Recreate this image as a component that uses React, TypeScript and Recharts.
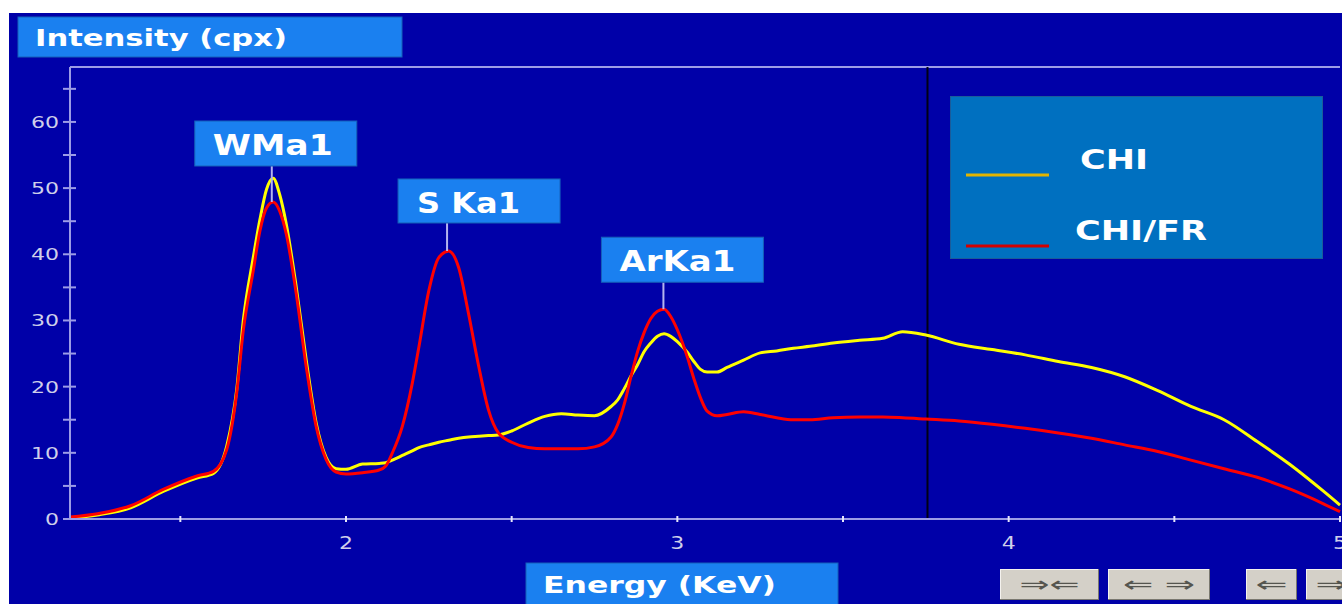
import React from 'react';
import { LineChart, Line, XAxis, YAxis, ReferenceLine, ReferenceDot, Legend } from 'recharts';

// Spectrum samples (energy in keV, intensity in counts)
const energyKeV = [
  1.167, 1.25, 1.35, 1.45, 1.55, 1.6, 1.64, 1.67, 1.69, 1.72,
  1.74, 1.76, 1.78, 1.8, 1.82, 1.85, 1.88, 1.91, 1.94, 1.97,
  2.0, 2.05, 2.1, 2.12, 2.14, 2.17, 2.2, 2.22, 2.25, 2.28,
  2.31, 2.34, 2.37, 2.4, 2.43, 2.46, 2.5, 2.55, 2.6, 2.65,
  2.7, 2.75, 2.8, 2.82, 2.84, 2.86, 2.88, 2.9, 2.92, 2.94,
  2.96, 2.98, 3.0, 3.03, 3.05, 3.07, 3.09, 3.12, 3.15, 3.2,
  3.25, 3.3, 3.35, 3.4, 3.47, 3.55, 3.62, 3.68, 3.75, 3.85,
  3.95, 4.05, 4.15, 4.25, 4.35, 4.45, 4.55, 4.65, 4.75, 4.85,
  4.95, 5.0,
];

const chiCounts = [
  0.1, 0.6, 1.7, 4.2, 6.2, 6.9, 11.0, 19.5, 30.0, 39.5,
  45.2, 49.8, 51.5, 49.0, 44.5, 35.0, 24.0, 14.5, 9.3, 7.6,
  7.5, 8.3, 8.4, 8.5, 8.9, 9.6, 10.3, 10.8, 11.2, 11.6,
  11.9, 12.2, 12.4, 12.5, 12.6, 12.7, 13.3, 14.5, 15.5, 15.9,
  15.7, 15.6, 17.0, 18.0, 19.7, 21.6, 23.3, 25.3, 26.6, 27.6,
  28.0, 27.6, 26.8, 25.2, 23.8, 22.6, 22.2, 22.2, 22.9, 24.0,
  25.1, 25.4, 25.8, 26.1, 26.6, 27.0, 27.3, 28.3, 27.8, 26.4,
  25.6, 24.8, 23.8, 22.9, 21.5, 19.4, 17.0, 15.0, 11.7, 8.2,
  4.2, 2.1,
];

const chiFrCounts = [
  0.3, 0.8, 2.0, 4.5, 6.5, 7.2, 10.5, 19.0, 28.5, 37.5,
  43.5, 47.0, 47.9, 46.5, 43.0, 34.0, 23.0, 14.0, 9.0, 7.1,
  6.8, 7.0, 7.4, 8.0, 10.0, 14.0, 20.5, 26.0, 34.5, 39.5,
  40.5, 38.0, 31.0, 23.2, 16.5, 13.0, 11.6, 10.8, 10.6, 10.6,
  10.6, 10.9, 12.4, 14.3, 17.4, 21.5, 25.3, 28.2, 30.3, 31.4,
  31.7, 30.6, 28.6, 24.5, 21.2, 18.3, 16.3, 15.6, 15.8, 16.2,
  15.8, 15.3, 15.0, 15.0, 15.3, 15.4, 15.4, 15.3, 15.1, 14.8,
  14.3, 13.7, 13.0, 12.2, 11.2, 10.2, 8.9, 7.6, 6.3, 4.5,
  2.3, 1.1,
];

const seriesNames = ['CHI', 'CHI/FR'];

const xTickValues = [1.5, 2, 2.5, 3, 3.5, 4, 4.5, 5];
const xTickLabels = ['', '2', '', '3', '', '4', '', '5'];
const yTickValues = [0, 5, 10, 15, 20, 25, 30, 35, 40, 45, 50, 55, 60, 65];
const yTickLabels = ['0', '', '10', '', '20', '', '30', '', '40', '', '50', '', '60', ''];

// Identified emission lines
const peakNames = ['WMa1', 'S Ka1', 'ArKa1'];
const peakEnergies = [1.776, 2.305, 2.958];
const peakCounts = [47.9, 40.5, 31.7];

const cursorEnergy = 3.755;
const energyDomain: [number, number] = [1.167, 5];
const countDomain: [number, number] = [0, 68.3];

const data = energyKeV.map((e, i) => ({ energy: e, chi: chiCounts[i], chiFr: chiFrCounts[i] }));

// Visual styling
const NAVY = '#0000A8';
const AXIS = '#9C9CE6';
const TICK_TEXT = '#CFCFEA';
const TAG_BLUE = '#1A80F0';
const FONT = "'DejaVu Sans', 'Liberation Sans', sans-serif";

const tagLayout = [
  { dx: -77, stem: 36, w: 162, h: 45, textDx: 18, textW: 120 },
  { dx: -49, stem: 28, w: 162, h: 44, textDx: 19, textW: 103 },
  { dx: -62, stem: 27, w: 162, h: 45, textDx: 18, textW: 116 },
];

const PeakTag = ({ cx, cy, idx }: { cx?: number; cy?: number; idx: number }) => {
  if (cx == null || cy == null) return null;
  const L = tagLayout[idx];
  const top = cy - L.stem - L.h;
  const left = cx + L.dx;
  return (
    <g>
      <line x1={cx} x2={cx} y1={cy} y2={cy - L.stem} stroke="#B4B4EE" strokeWidth={2} />
      <rect x={left} y={top} width={L.w} height={L.h} fill={TAG_BLUE} stroke="#1560B8" strokeWidth={1} />
      <text
        x={left + L.textDx}
        y={top + 34}
        fill="#FFFFFF"
        fontFamily={FONT}
        fontWeight="bold"
        fontSize={28}
        textLength={L.textW}
        lengthAdjust="spacingAndGlyphs"
      >
        {peakNames[idx]}
      </text>
    </g>
  );
};

const XTick = (props: any) => {
  const { x, y, payload } = props;
  const i = xTickValues.indexOf(payload.value);
  const label = i >= 0 ? xTickLabels[i] : '';
  return (
    <g>
      <line x1={x} x2={x} y1={y - 3} y2={y + 3} stroke="#E6E6FA" strokeWidth={2} />
      {label && (
        <text x={x} y={y + 30} textAnchor="middle" fill={TICK_TEXT} fontFamily={FONT} fontSize={17}
          textLength={14} lengthAdjust="spacingAndGlyphs">
          {label}
        </text>
      )}
    </g>
  );
};

const YTick = (props: any) => {
  const { x, y, payload } = props;
  const i = yTickValues.indexOf(payload.value);
  const label = i >= 0 ? yTickLabels[i] : '';
  return (
    <g>
      <line x1={x - 7} x2={x + 6} y1={y} y2={y} stroke={AXIS} strokeWidth={2} />
      {label && (
        <text x={x - 11} y={y + 6} textAnchor="end" fill={TICK_TEXT} fontFamily={FONT} fontSize={16}
          textLength={label.length * 14} lengthAdjust="spacingAndGlyphs">
          {label}
        </text>
      )}
    </g>
  );
};

const swatchColors = ['#E2B400', '#D40000'];

const LegendPanel = (props: any) => {
  const items = props.payload || [];
  const rows = [
    { lineY: 79, textX: 130, textY: 73, textW: 68 },
    { lineY: 150, textX: 125, textY: 144, textW: 132 },
  ];
  return (
    <svg width={374} height={164} style={{ display: 'block' }}>
      <rect x={0.5} y={0.5} width={372} height={162} fill="#0070C0" stroke="#1A5C9A" />
      {items.map((it: any, i: number) => (
        <g key={it.value}>
          <line x1={16} x2={99} y1={rows[i].lineY} y2={rows[i].lineY} stroke={swatchColors[i]} strokeWidth={3} />
          <text x={rows[i].textX} y={rows[i].textY} fill="#FFFFFF" fontFamily={FONT} fontWeight="bold"
            fontSize={26} textLength={rows[i].textW} lengthAdjust="spacingAndGlyphs">
            {it.value}
          </text>
        </g>
      ))}
    </svg>
  );
};

const Button = ({ x, w, label, textW }: { x: number; w: number; label: string; textW: number }) => (
  <g>
    <rect x={x} y={569} width={w} height={31} fill="#D4D0C8" />
    <line x1={x} x2={x + w} y1={569.5} y2={569.5} stroke="#F4F2EE" />
    <line x1={x + 0.5} x2={x + 0.5} y1={569} y2={600} stroke="#F4F2EE" />
    <line x1={x} x2={x + w} y1={599.5} y2={599.5} stroke="#7A7870" />
    <line x1={x + w - 0.5} x2={x + w - 0.5} y1={569} y2={600} stroke="#7A7870" />
    <text x={x + (w - textW) / 2} y={592} fill="#55554F" fontFamily={FONT} fontSize={22}
      textLength={textW} lengthAdjust="spacingAndGlyphs">
      {label}
    </text>
  </g>
);

export default function App() {
  return (
    <div style={{ position: 'absolute', left: 0, top: 0, width: 1342, height: 604, background: '#FFFFFF', overflow: 'hidden' }}>
      <div style={{ position: 'absolute', left: 9, top: 13, width: 1333, height: 591, background: NAVY }} />
      <div style={{ position: 'absolute', left: 0, top: 0 }}>
        <LineChart width={1342} height={604} data={data} margin={{ top: 67, right: 2, bottom: 55, left: 0 }}>
          <XAxis
            type="number"
            dataKey="energy"
            domain={energyDomain}
            ticks={xTickValues}
            interval={0}
            height={30}
            tickSize={0}
            tickMargin={0}
            tickLine={false}
            axisLine={{ stroke: AXIS, strokeWidth: 2 }}
            tick={<XTick />}
          />
          <YAxis
            type="number"
            domain={countDomain}
            ticks={yTickValues}
            interval={0}
            width={70}
            tickSize={0}
            tickMargin={0}
            tickLine={false}
            axisLine={{ stroke: AXIS, strokeWidth: 2 }}
            tick={<YTick />}
          />
          <ReferenceLine y={countDomain[1]} stroke={AXIS} strokeWidth={2} />
          <ReferenceLine x={cursorEnergy} stroke="#000014" strokeWidth={2} />
          <Line type="monotone" dataKey="chi" name={seriesNames[0]} stroke="#FFFF00" strokeWidth={3} dot={false} isAnimationActive={false} />
          <Line type="monotone" dataKey="chiFr" name={seriesNames[1]} stroke="#FF0000" strokeWidth={3} dot={false} isAnimationActive={false} />
          {peakNames.map((n, i) => (
            <ReferenceDot
              key={n}
              x={peakEnergies[i]}
              y={peakCounts[i]}
              r={0}
              shape={(p: any) => <PeakTag cx={p.cx} cy={p.cy} idx={i} />}
            />
          ))}
          <Legend
            layout="vertical"
            align="center"
            verticalAlign="middle"
            content={<LegendPanel />}
            wrapperStyle={{ position: 'absolute', left: 950, top: 96, width: 374, height: 164 }}
          />
        </LineChart>
      </div>
      <svg width={1342} height={604} style={{ position: 'absolute', left: 0, top: 0, pointerEvents: 'none' }}>
        <rect x={18} y={17} width={384} height={40} fill={TAG_BLUE} stroke="#1560B8" />
        <text x={35} y={46} fill="#FFFFFF" fontFamily={FONT} fontWeight="bold" fontSize={23}
          textLength={252} lengthAdjust="spacingAndGlyphs">
          Intensity (cpx)
        </text>
        <rect x={526} y={563} width={312} height={45} fill={TAG_BLUE} stroke="#1560B8" />
        <text x={543} y={593} fill="#FFFFFF" fontFamily={FONT} fontWeight="bold" fontSize={23}
          textLength={233} lengthAdjust="spacingAndGlyphs">
          Energy (KeV)
        </text>
        <Button x={1000} w={99} label="⇒⇐" textW={60} />
        <Button x={1108} w={102} label="⇐ ⇒" textW={72} />
        <Button x={1246} w={51} label="⇐" textW={32} />
        <Button x={1306} w={51} label="⇒" textW={32} />
      </svg>
    </div>
  );
}
